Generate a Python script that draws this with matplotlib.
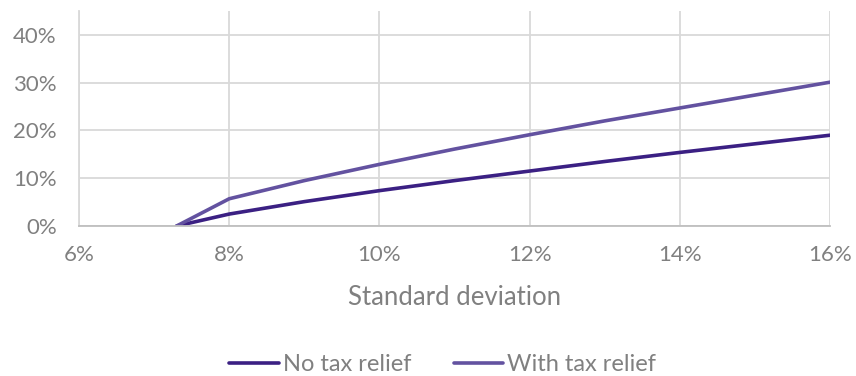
import matplotlib.pyplot as plt
from matplotlib.ticker import PercentFormatter, MultipleLocator

plt.rcParams['font.family'] = ['Lato', 'DejaVu Sans']

# standard deviation (%) and expected excess return (%)
std_dev = [7.3, 8, 9, 10, 11, 12, 13, 14, 15, 16]
no_relief = [0, 2.5, 5.1, 7.4, 9.5, 11.5, 13.5, 15.4, 17.2, 19.0]
with_relief = [0, 5.7, 9.5, 12.9, 16.1, 19.1, 22.0, 24.7, 27.4, 30.1]
series_names = ['No tax relief', 'With tax relief']

grey = '#808080'
grid = '#d9d9d9'

fig = plt.figure(figsize=(8.56, 3.76), dpi=100)
ax = fig.add_axes([79 / 856, 1 - 226 / 376, (830 - 79) / 856, (226 - 11) / 376])

ax.plot(std_dev, no_relief, color='#3b2083', lw=2.6, solid_capstyle='round', label=series_names[0])
ax.plot(std_dev, with_relief, color='#6352a0', lw=2.6, solid_capstyle='round', label=series_names[1])

ax.set_xlim(6, 16)
ax.set_ylim(0, 45)
ax.xaxis.set_major_locator(MultipleLocator(2))
ax.xaxis.set_major_formatter(PercentFormatter(decimals=0))
ax.yaxis.set_major_formatter(PercentFormatter(decimals=0))
ax.set_yticks([0, 10, 20, 30, 40])

ax.grid(True, color=grid, lw=1.3)
ax.set_axisbelow(True)
for s in ['top', 'right']:
    ax.spines[s].set_visible(False)
ax.spines['left'].set_color(grid)
ax.spines['left'].set_linewidth(1.3)
ax.spines['bottom'].set_color('#bfbfbf')
ax.spines['bottom'].set_linewidth(1.3)
ax.tick_params(length=0, colors=grey, labelsize=16)
ax.tick_params(axis='y', pad=16)
ax.tick_params(axis='x', pad=14)

ax.set_xlabel('Standard deviation', color=grey, fontsize=18.5, labelpad=14)

fig.legend(loc='lower center', bbox_to_anchor=(0.517, -0.055), ncol=2, frameon=False,
           fontsize=17, labelcolor=grey, handlelength=2.1, handletextpad=0.15, columnspacing=1.8)

fig.savefig('out.png', dpi=100)
